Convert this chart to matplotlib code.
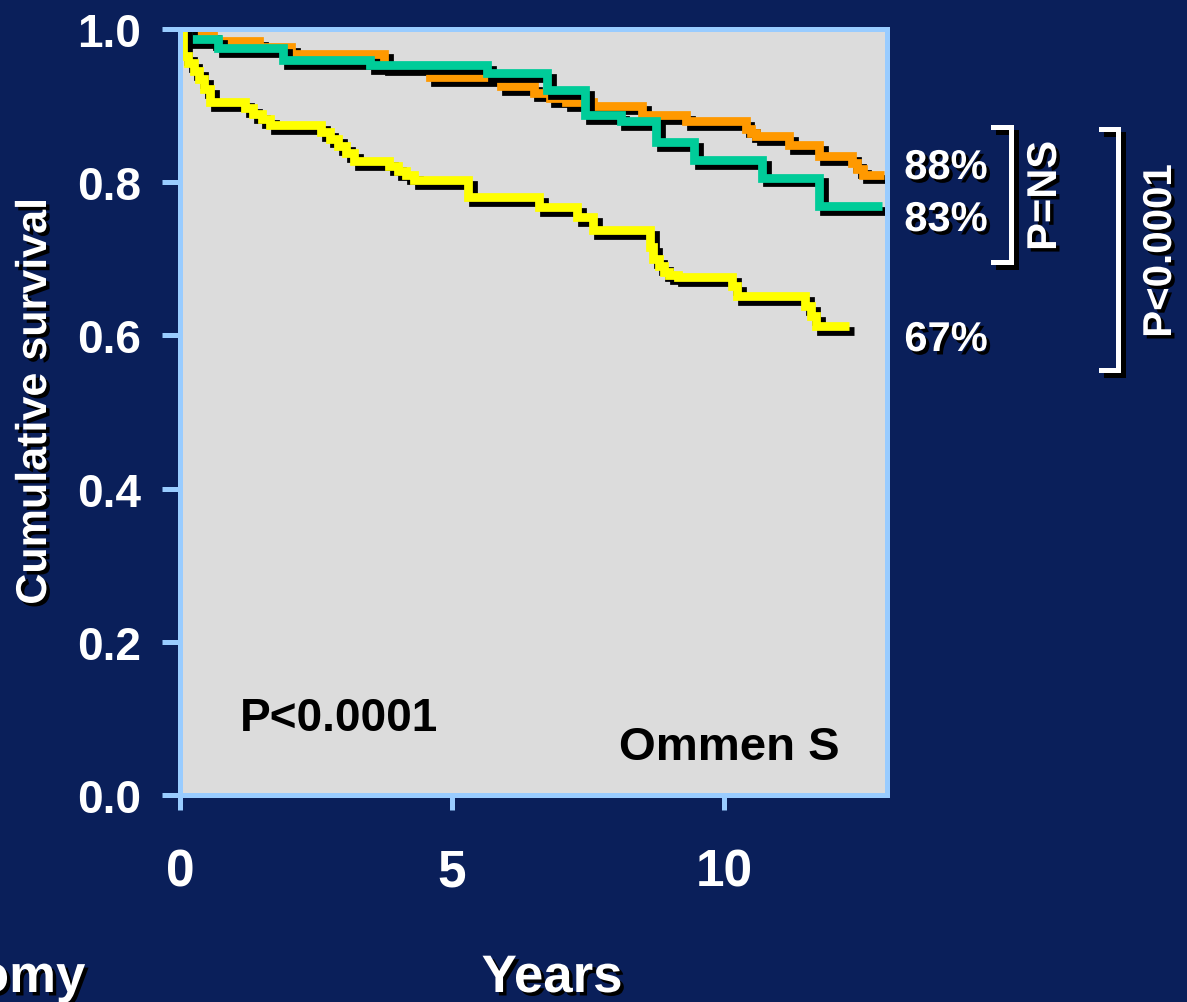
import matplotlib
matplotlib.use("Agg")
import matplotlib.pyplot as plt
import matplotlib.patheffects as pe
from matplotlib.lines import Line2D

# Kaplan-Meier steps (years, cumulative survival)
orange_t = [0, 0.25, 0.6, 1.45, 2.05, 3.75, 4.6, 5.9, 6.5, 6.8, 7.1, 7.6, 8.5, 9.3,
            10.4, 10.5, 10.6, 11.2, 11.75, 12.35, 12.45, 12.55, 12.95]
orange_s = [1.0, 0.993, 0.984, 0.976, 0.968, 0.951, 0.937, 0.926, 0.917, 0.910, 0.905,
            0.900, 0.888, 0.880, 0.870, 0.864, 0.860, 0.849, 0.834, 0.825, 0.817, 0.810, 0.810]

green_t = [0, 0.15, 0.7, 1.9, 3.5, 5.65, 6.75, 7.45, 8.1, 8.75, 9.45, 10.7, 11.75, 12.9]
green_s = [1.0, 0.987, 0.975, 0.960, 0.953, 0.943, 0.920, 0.888, 0.880, 0.852, 0.829,
           0.806, 0.769, 0.769]

yellow_t = [0, 0.05, 0.15, 0.25, 0.35, 0.45, 0.55, 1.2, 1.35, 1.5, 1.65, 2.6, 2.75, 2.9,
            3.05, 3.2, 3.85, 4.0, 4.15, 4.3, 5.3, 6.6, 7.3, 7.6, 8.65, 8.7, 8.8, 8.9,
            9.0, 9.15, 10.15, 10.25, 11.5, 11.6, 11.7, 12.3]
yellow_s = [1.0, 0.965, 0.955, 0.945, 0.935, 0.922, 0.905, 0.897, 0.889, 0.882, 0.875,
            0.866, 0.857, 0.847, 0.838, 0.828, 0.821, 0.815, 0.809, 0.803, 0.781, 0.767,
            0.754, 0.737, 0.715, 0.700, 0.690, 0.683, 0.679, 0.676, 0.664, 0.651, 0.638,
            0.625, 0.612, 0.612]

end_labels = ["88%", "83%", "67%"]
x_ticks = [0, 5, 10]
y_ticks = [0.0, 0.2, 0.4, 0.6, 0.8, 1.0]

NAVY = "#0a1f5a"
PANEL = "#dcdcdc"
SPINE = "#99ccff"
W, H = 1187, 1003

plt.rcParams["font.family"] = ["Liberation Sans", "DejaVu Sans"]
plt.rcParams["font.weight"] = "bold"


def fx(px):
    return px / W


def fy(py):
    return 1 - py / H


shadow_txt = [pe.withSimplePatchShadow(offset=(2.5, -2.5), shadow_rgbFace="black", alpha=1)]
shadow_line = [pe.SimpleLineShadow(offset=(3.5, -3.5), shadow_color="black", alpha=1), pe.Normal()]

fig = plt.figure(figsize=(W / 100, H / 100), dpi=100, facecolor=NAVY)
ax = fig.add_axes([fx(180), fy(796), fx(887) - fx(180), fy(30) - fy(796)])
ax.set_facecolor(PANEL)

for t, s, c in [(orange_t, orange_s, "#ff9900"),
                (green_t, green_s, "#00cc99"),
                (yellow_t, yellow_s, "#ffff00")]:
    ax.plot(t, s, drawstyle="steps-post", color=c, lw=6.3,
            solid_capstyle="butt", solid_joinstyle="miter", path_effects=shadow_line)

ax.set_xlim(0, 13)
ax.set_ylim(0, 1.0)
ax.set_xticks(x_ticks)
ax.set_xticklabels([str(v) for v in x_ticks])
ax.set_yticks(y_ticks)
ax.set_yticklabels([f"{v:.1f}" for v in y_ticks])
for sp in ax.spines.values():
    sp.set_color(SPINE)
    sp.set_linewidth(3.6)
ax.tick_params(axis="y", direction="out", length=13, width=3.6, color=SPINE,
               labelcolor="white", labelsize=33, pad=15)
ax.tick_params(axis="x", direction="out", length=11, width=3.6, color=SPINE,
               labelcolor="white", labelsize=37, pad=27)

fig.text(fx(339), fy(719), "P<0.0001", color="black", fontsize=33, ha="center", va="center")
fig.text(fx(729), fy(748), "Ommen S", color="black", fontsize=34, ha="center", va="center")

for lab, py in zip(end_labels, [169, 221, 341]):
    fig.text(fx(946), fy(py), lab, color="white", fontsize=30, ha="center", va="center",
             path_effects=shadow_txt)

# brackets for the pairwise comparisons
for xs, ys in [([993, 1011, 1011, 993], [128, 128, 263, 263]),
               ([1101, 1118, 1118, 1101], [130, 130, 371, 371])]:
    fig.add_artist(Line2D([fx(v) for v in xs], [fy(v) for v in ys], color="white", lw=3.6,
                          transform=fig.transFigure, solid_joinstyle="miter",
                          path_effects=shadow_line))

fig.text(fx(1045), fy(197), "P=NS", color="white", fontsize=30, rotation=90,
         ha="center", va="center", path_effects=shadow_txt)
fig.text(fx(1160), fy(252), "P<0.0001", color="white", fontsize=29, rotation=90,
         ha="center", va="center", path_effects=shadow_txt)

fig.text(fx(35), fy(403), "Cumulative survival", color="white", fontsize=31, rotation=90,
         ha="center", va="center", path_effects=shadow_txt)
fig.text(fx(552), fy(993), "Years", color="white", fontsize=38, ha="center",
         va="baseline", path_effects=shadow_txt)
# word cut by the slide's left edge, as in the source
fig.text(fx(85), fy(993), "Myectomy", color="white", fontsize=38, ha="right",
         va="baseline", path_effects=shadow_txt)

fig.savefig("out.png", dpi=100, facecolor=NAVY)
